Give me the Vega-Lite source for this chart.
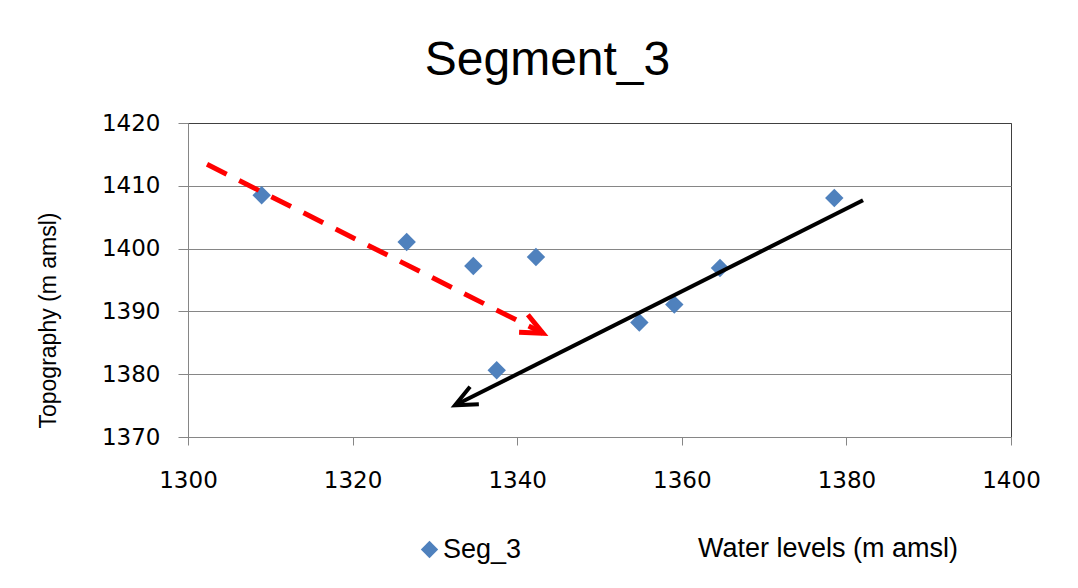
{
  "$schema": "https://vega.github.io/schema/vega-lite/v6.json",
  "width": 823,
  "height": 314,
  "autosize": {"type": "none"},
  "padding": {"left": 188, "top": 123, "right": 67, "bottom": 151},
  "background": "white",
  "title": {
    "text": "Segment_3",
    "font": "Liberation Sans",
    "fontSize": 48,
    "fontWeight": "normal",
    "color": "#000000",
    "anchor": "middle",
    "dx": -52,
    "offset": -11,
    "baseline": "alphabetic"
  },
  "config": {
    "view": {"stroke": "#404040", "strokeWidth": 1},
    "axis": {
      "labelFont": "DejaVu Sans",
      "labelFontSize": 23,
      "labelColor": "#000000",
      "labelFlush": false,
      "labelOverlap": false,
      "domainColor": "#868686",
      "tickColor": "#868686",
      "titleColor": "#000000",
      "titleFontWeight": "normal"
    }
  },
  "datasets": {
    "seg": [
      {"water": 1308.95, "topo": 1408.49, "series": "Seg_3"},
      {"water": 1326.57, "topo": 1401.05, "series": "Seg_3"},
      {"water": 1334.67, "topo": 1397.23, "series": "Seg_3"},
      {"water": 1342.28, "topo": 1398.66, "series": "Seg_3"},
      {"water": 1337.51, "topo": 1380.62, "series": "Seg_3"},
      {"water": 1354.84, "topo": 1388.22, "series": "Seg_3"},
      {"water": 1359.09, "topo": 1391.08, "series": "Seg_3"},
      {"water": 1364.64, "topo": 1396.91, "series": "Seg_3"},
      {"water": 1378.53, "topo": 1408.06, "series": "Seg_3"}
    ],
    "arrows": [
      {"arrow": "red", "part": "start", "water": 1302.31, "topo": 1413.42},
      {"arrow": "red", "part": "tip", "water": 1343.13, "topo": 1386.51},
      {"arrow": "black", "part": "start", "water": 1382.02, "topo": 1407.69},
      {"arrow": "black", "part": "tip", "water": 1332.44, "topo": 1375.05}
    ]
  },
  "encoding": {
    "x": {
      "field": "water",
      "type": "quantitative",
      "scale": {"domain": [1300, 1400], "nice": false, "zero": false},
      "axis": {
        "title": "Water levels (m amsl)",
        "values": [1300, 1320, 1340, 1360, 1380, 1400],
        "format": "d",
        "grid": false,
        "tickSize": 8,
        "labelPadding": 24,
        "titleFont": "Liberation Sans",
        "titleFontSize": 27,
        "titleX": 639.5,
        "titleY": 111,
        "titleBaseline": "middle",
        "titleAlign": "center"
      }
    },
    "y": {
      "field": "topo",
      "type": "quantitative",
      "scale": {"domain": [1370, 1420], "nice": false, "zero": false},
      "axis": {
        "title": "Topography (m amsl)",
        "values": [1370, 1380, 1390, 1400, 1410, 1420],
        "format": "d",
        "grid": true,
        "gridColor": {"condition": {"test": "datum.value === 1420", "value": "#404040"}, "value": "#868686"},
        "tickSize": 10,
        "labelPadding": 18,
        "titleFont": "Liberation Sans",
        "titleFontSize": 23,
        "titleAngle": -90,
        "titleX": -140,
        "titleY": 197,
        "titleBaseline": "middle",
        "titleAlign": "center"
      }
    }
  },
  "layer": [
    {
      "data": {"name": "seg"},
      "mark": {"type": "point", "shape": "diamond", "filled": true, "size": 340, "opacity": 1},
      "encoding": {
        "color": {
          "field": "series",
          "type": "nominal",
          "scale": {"range": ["#4F81BD"]},
          "legend": {
            "title": null,
            "orient": "none",
            "legendX": 228,
            "legendY": 413,
            "padding": 0,
            "symbolType": "diamond",
            "symbolSize": 300,
            "symbolStrokeWidth": 0,
            "labelFont": "Liberation Sans",
            "labelFontSize": 27,
            "labelColor": "#000000",
            "labelOffset": 0
          }
        }
      }
    },
    {
      "data": {"name": "arrows"},
      "transform": [{"filter": "datum.arrow === 'red'"}],
      "mark": {"type": "line", "color": "#FF0000", "strokeWidth": 5, "strokeDash": [22, 14]},
      "encoding": {}
    },
    {
      "data": {"name": "arrows"},
      "transform": [{"filter": "datum.arrow === 'black'"}],
      "mark": {"type": "line", "color": "#000000", "strokeWidth": 4},
      "encoding": {}
    },
    {
      "data": {"name": "arrows"},
      "transform": [{"filter": "datum.arrow === 'red' && datum.part === 'tip'"}],
      "mark": {"type": "point", "shape": "M-1,-0.45L0,0L-1,0.45", "size": 1900, "angle": 26.7, "filled": false, "color": "#FF0000", "strokeWidth": 5, "opacity": 1},
      "encoding": {}
    },
    {
      "data": {"name": "arrows"},
      "transform": [{"filter": "datum.arrow === 'black' && datum.part === 'tip'"}],
      "mark": {"type": "point", "shape": "M-1,-0.45L0,0L-1,0.45", "size": 1900, "angle": 153.3, "filled": false, "color": "#000000", "strokeWidth": 4, "opacity": 1},
      "encoding": {}
    }
  ]
}
